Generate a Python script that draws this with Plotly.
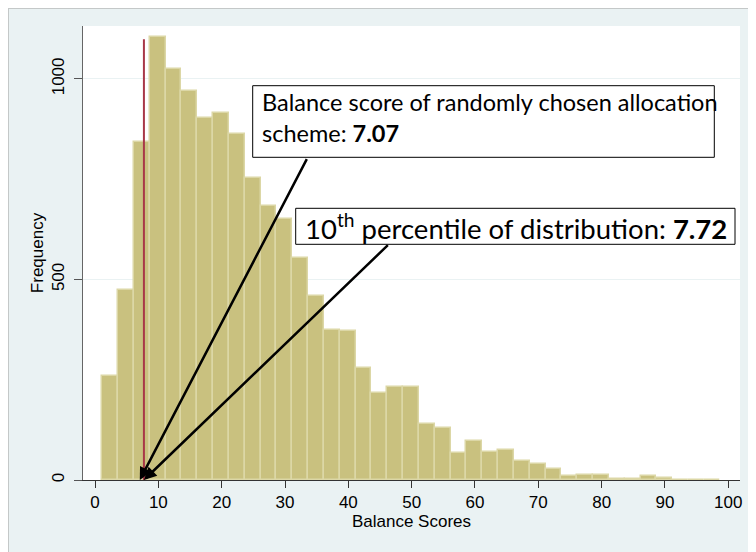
import plotly.graph_objects as go

# ---- data ----
bin_start = 1.15
bin_width = 2.5
counts = [259, 473, 843, 1104, 1026, 970, 902, 916, 862, 752,
          683, 650, 554, 459, 373, 371, 280, 217, 232, 232,
          140, 129, 68, 97, 70, 76, 47, 40, 27, 9,
          13, 13, 2, 2, 9, 5, 1, 1, 1]
chosen_score = 7.07
p10_score = 7.72
x_ticks = [0, 10, 20, 30, 40, 50, 60, 70, 80, 90, 100]
y_ticks = [0, 500, 1000]

centers = [bin_start + bin_width * (i + 0.5) for i in range(len(counts))]

BG = "#eaf2f3"
W, H = 756, 552
L, T = 75, 18
pw, ph = 657, 454
R, B = W - L - pw, H - T - ph

# page-pixel -> paper (page is offset by the 8px body margin)
def px(xp):
    return (xp - 8 - L) / pw
def py(yp):
    return (T + ph - (yp - 8)) / ph

fig = go.Figure()
fig.add_trace(go.Bar(
    x=centers, y=counts, width=bin_width,
    marker=dict(color="#c9c17f", line=dict(color="#dcd7a6", width=1.5)),
    hoverinfo="x+y",
))

# red vertical line at 10th percentile
fig.add_shape(type="line", x0=p10_score, x1=p10_score, y0=0, y1=1099,
              xref="x", yref="y", line=dict(color="#a83848", width=2))

# thin frame on top/left of the graph region
fig.add_shape(type="line", xref="paper", yref="paper",
              x0=px(8), x1=px(W + 8), y0=py(8.5), y1=py(8.5),
              line=dict(color="#c4c8c8", width=1), layer="above")
fig.add_shape(type="line", xref="paper", yref="paper",
              x0=px(8.5), x1=px(8.5), y0=py(H + 8), y1=py(8),
              line=dict(color="#c4c8c8", width=1), layer="above")

# text boxes (drawn as rectangles)
fig.add_shape(type="rect", xref="paper", yref="paper",
              x0=px(252.7), x1=px(714.3), y0=py(157.3), y1=py(85.7),
              fillcolor="white", line=dict(color="black", width=1), layer="above")
fig.add_shape(type="rect", xref="paper", yref="paper",
              x0=px(295.7), x1=px(735), y0=py(244.3), y1=py(208.3),
              fillcolor="white", line=dict(color="black", width=1), layer="above")

# arrows
for tip_x, tail_x, tail_y in [(chosen_score, 33.6, 805), (p10_score, 46.4, 588)]:
    fig.add_annotation(x=tip_x, y=0, ax=tail_x, ay=tail_y, xref="x", yref="y",
                       axref="x", ayref="y", text=" ", font=dict(size=2),
                       showarrow=True, arrowhead=2, arrowsize=1, arrowwidth=2.5,
                       arrowcolor="black", standoff=0, borderpad=0)

box_font = "Lato, Open Sans, sans-serif"
fig.add_annotation(
    xref="paper", yref="paper", x=px(261), y=py(117),
    xanchor="left", yanchor="middle", align="left", showarrow=False,
    text="Balance score of randomly chosen allocation<br>scheme: <b>7.07</b>",
    font=dict(family=box_font, size=23.5, color="black"), borderpad=0,
)
fig.add_annotation(
    xref="paper", yref="paper", x=px(304), y=py(226),
    xanchor="left", yanchor="middle", align="left", showarrow=False,
    text="10<sup>th</sup> percentile of distribution: <b>7.72</b>",
    font=dict(family=box_font, size=27.5, color="black"), borderpad=0,
)

axis_font = dict(family="Liberation Sans, Arial, sans-serif", size=17, color="black")
fig.update_layout(
    width=W, height=H,
    margin=dict(l=L, r=R, t=T, b=B),
    paper_bgcolor=BG, plot_bgcolor="white",
    showlegend=False, bargap=0,
    xaxis=dict(range=[-1.9, 101.85], tickvals=x_ticks, ticks="outside", ticklen=7,
               tickcolor="#333333", showline=True, linecolor="#333333", linewidth=1,
               showgrid=False, zeroline=False, tickfont=axis_font,
               title=dict(text="Balance Scores", font=axis_font, standoff=2)),
    yaxis=dict(range=[0, 1132], tickvals=y_ticks, ticks="outside", ticklen=8,
               tickcolor="#555555", showline=True, linecolor="#666666", linewidth=1,
               showgrid=True, gridcolor=BG, gridwidth=1, zeroline=False,
               tickangle=-90, tickfont=axis_font, ticklabelstandoff=3,
               title=dict(text="Frequency", font=axis_font, standoff=1)),
)

fig.write_html("out.html")
